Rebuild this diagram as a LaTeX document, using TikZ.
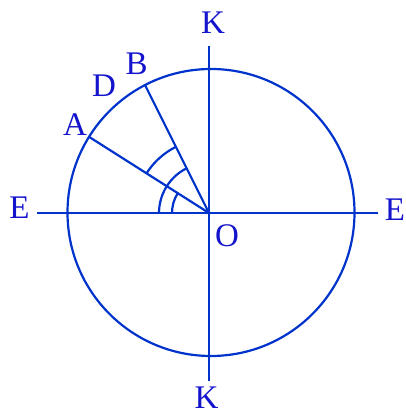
\documentclass[tikz,border=0pt]{standalone}
\usepackage{fontspec}
\setmainfont{Liberation Serif}
\definecolor{lineblue}{RGB}{0,51,204}
\definecolor{textblue}{RGB}{20,20,205}
\tikzset{
  geo/.style={draw=lineblue, line width=2.2pt},
  lbl/.style={text=textblue, inner sep=0pt, font=\fontsize{33}{33}\selectfont}
}
\begin{document}
\begin{tikzpicture}[x=1pt,y=1pt]
\useasboundingbox (0,0) rectangle (405,412);
% key points
\coordinate (O) at (209,199);
\coordinate (C) at (211,199.5);
\coordinate (A) at (88.5,275.5);
\coordinate (B) at (145,327);
\coordinate (Ew) at (37,199);
\coordinate (Ee) at (378,199);
\coordinate (Kn) at (209,366);
\coordinate (Ks) at (209,31);
% circle
\draw[geo] (C) circle (143.5);
% axes
\draw[geo] (Ew) -- (Ee);
\draw[geo] (Ks) -- (Kn);
% radii
\draw[geo] (O) -- (A);
\draw[geo] (O) -- (B);
% angle arcs
\draw[geo] ([shift={(180:37)}]O) arc (180:147.7:37);
\draw[geo] ([shift={(180:50)}]O) arc (180:116.6:50);
\draw[geo] ([shift={(147.7:74)}]O) arc (147.7:116.6:74);
% labels
\node[lbl] (lE1) at (19.5,204) {E};
\node[lbl] (lE2) at (395,202.5) {E};
\node[lbl] (lK1) at (213,389) {K};
\node[lbl] (lK2) at (206.5,14) {K};
\node[lbl] (lO) at (227,176) {O};
\node[lbl] (lA) at (75,287.5) {A};
\node[lbl] (lD) at (104,326.5) {D};
\node[lbl] (lB) at (136.7,348) {B};
\end{tikzpicture}
\end{document}
